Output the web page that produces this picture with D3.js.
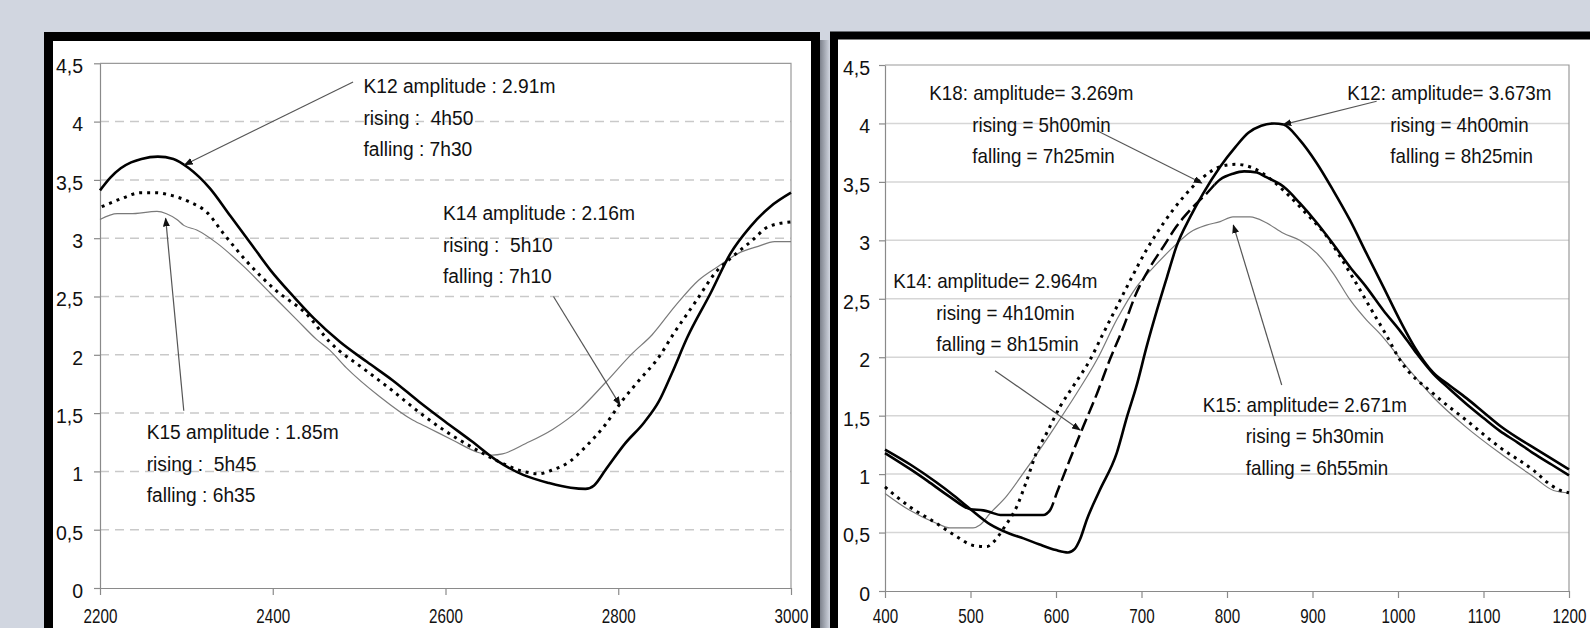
<!DOCTYPE html>
<html>
<head>
<meta charset="utf-8">
<script src="https://cdn.jsdelivr.net/npm/d3@7"></script>
<style>
body { margin: 0; background: #d1d6e0; overflow: hidden; }
svg { display: block; }
text { font-family: "Liberation Sans", Arial, sans-serif; fill: #111; }
</style>
</head>
<body>
<svg id="chart" width="1590" height="628"></svg>
<script>
// Water level (m) against time step, two records side by side.
const yTicks = [0, 0.5, 1, 1.5, 2, 2.5, 3, 3.5, 4, 4.5];
const yTickLabels = ["0", "0,5", "1", "1,5", "2", "2,5", "3", "3,5", "4", "4,5"];
const leftXTicks = [2200, 2400, 2600, 2800, 3000];
const rightXTicks = [400, 500, 600, 700, 800, 900, 1000, 1100, 1200];

// left record
const leftK12 = [[2200,3.41],[2212,3.52],[2224,3.60],[2236,3.65],[2248,3.68],[2267,3.70],[2285,3.68],[2303,3.60],[2327,3.43],[2351,3.19],[2375,2.95],[2398,2.72],[2424,2.50],[2448,2.31],[2478,2.11],[2509,1.94],[2539,1.78],[2569,1.60],[2599,1.43],[2630,1.26],[2660,1.09],[2690,0.97],[2720,0.90],[2745,0.86],[2762,0.85],[2772,0.88],[2785,1.01],[2808,1.24],[2830,1.42],[2847,1.60],[2862,1.84],[2880,2.15],[2907,2.53],[2930,2.87],[2953,3.10],[2976,3.27],[3000,3.39]];
const leftK14 = [[2202,3.27],[2225,3.34],[2247,3.39],[2265,3.39],[2281,3.37],[2304,3.31],[2324,3.22],[2343,3.04],[2370,2.80],[2404,2.55],[2439,2.35],[2466,2.11],[2509,1.86],[2539,1.69],[2569,1.51],[2599,1.35],[2630,1.21],[2660,1.09],[2690,1.00],[2708,0.98],[2723,1.01],[2743,1.08],[2762,1.21],[2785,1.40],[2805,1.61],[2824,1.78],[2847,1.98],[2864,2.18],[2890,2.46],[2912,2.70],[2932,2.84],[2955,2.98],[2974,3.10],[3000,3.14]];
const leftK15 = [[2200,3.16],[2220,3.21],[2235,3.21],[2266,3.23],[2277,3.21],[2289,3.16],[2297,3.11],[2312,3.07],[2335,2.96],[2366,2.76],[2397,2.53],[2428,2.30],[2451,2.13],[2466,2.04],[2485,1.89],[2524,1.64],[2562,1.44],[2581,1.37],[2608,1.27],[2639,1.16],[2654,1.14],[2666,1.15],[2693,1.24],[2724,1.36],[2755,1.53],[2785,1.76],[2816,2.01],[2839,2.17],[2866,2.42],[2893,2.64],[2916,2.76],[2939,2.87],[2962,2.93],[2981,2.97],[3000,2.97]];

// right record
const rightK12 = [[400,1.21],[430,1.08],[460,0.93],[480,0.82],[500,0.70],[523,0.57],[546,0.49],[562,0.45],[580,0.40],[600,0.35],[614,0.33],[622,0.36],[628,0.44],[636,0.61],[651,0.86],[671,1.18],[683,1.49],[694,1.75],[706,2.09],[718,2.40],[730,2.69],[741,2.95],[757,3.20],[772,3.40],[792,3.63],[810,3.80],[825,3.92],[840,3.98],[855,4.00],[866,3.99],[885,3.86],[905,3.66],[924,3.43],[944,3.17],[963,2.89],[983,2.60],[1002,2.32],[1020,2.08],[1041,1.87],[1060,1.76],[1080,1.65],[1100,1.53],[1120,1.41],[1140,1.31],[1160,1.22],[1180,1.13],[1200,1.04]];
const rightK14 = [[400,1.18],[430,1.04],[450,0.94],[475,0.81],[500,0.70],[515,0.69],[525,0.67],[535,0.65],[585,0.65],[593,0.69],[601,0.84],[616,1.12],[632,1.41],[648,1.69],[663,1.98],[679,2.26],[694,2.55],[710,2.77],[726,2.95],[741,3.12],[757,3.26],[776,3.40],[792,3.52],[807,3.57],[820,3.59],[835,3.58],[846,3.54],[866,3.46],[885,3.32],[905,3.15],[924,2.97],[944,2.77],[963,2.60],[983,2.40],[1002,2.23],[1020,2.05],[1041,1.86],[1060,1.73],[1080,1.60],[1100,1.48],[1119,1.37],[1140,1.27],[1158,1.18],[1180,1.08],[1200,0.99]];
const rightK18 = [[400,0.89],[429,0.72],[460,0.58],[484,0.465],[503,0.39],[519,0.38],[527,0.42],[540,0.55],[554,0.72],[566,0.95],[577,1.18],[589,1.35],[605,1.58],[620,1.75],[640,1.98],[655,2.20],[671,2.43],[687,2.66],[706,2.92],[726,3.15],[749,3.37],[772,3.54],[792,3.63],[810,3.65],[830,3.62],[850,3.53],[870,3.40],[890,3.25],[916,3.04],[944,2.72],[971,2.38],[987,2.18],[1002,1.98],[1041,1.69],[1080,1.46],[1119,1.23],[1158,1.035],[1180,0.90],[1190,0.86],[1200,0.84]];
const rightK15 = [[400,0.835],[429,0.69],[460,0.58],[476,0.54],[503,0.54],[511,0.565],[523,0.665],[542,0.81],[562,1.01],[581,1.21],[601,1.43],[624,1.69],[648,1.98],[671,2.32],[694,2.60],[718,2.80],[741,2.97],[757,3.07],[776,3.13],[792,3.16],[807,3.20],[827,3.20],[846,3.15],[866,3.06],[885,3.00],[905,2.89],[924,2.72],[944,2.49],[963,2.32],[979,2.20],[1010,1.92],[1041,1.66],[1080,1.40],[1119,1.18],[1158,0.98],[1182,0.86],[1200,0.84]];

// annotation texts
const leftNotes = [
    ["K12 amplitude : 2.91m", "rising :  4h50", "falling : 7h30"],
    ["K14 amplitude : 2.16m", "rising :  5h10", "falling : 7h10"],
    ["K15 amplitude : 1.85m", "rising :  5h45", "falling : 6h35"]
];
const rightNotes = [
    ["K18: amplitude= 3.269m", "rising = 5h00min", "falling = 7h25min"],
    ["K12: amplitude= 3.673m", "rising = 4h00min", "falling = 8h25min"],
    ["K14: amplitude= 2.964m", "rising = 4h10min", "falling = 8h15min"],
    ["K15: amplitude= 2.671m", "rising = 5h30min", "falling = 6h55min"]
];

let svg = d3.select("#chart");
let defs = svg.append("defs");

defs.append("marker")
    .attr("id", "head")
    .attr("markerUnits", "userSpaceOnUse")
    .attr("markerWidth", 9).attr("markerHeight", 7)
    .attr("refX", 8).attr("refY", 3.5)
    .attr("orient", "auto")
    .append("path").attr("d", "M0,0 L9,3.5 L0,7 Z").attr("fill", "#111");

let shadow = defs.append("linearGradient").attr("id", "shadow");
shadow.append("stop").attr("offset", "0%").attr("stop-color", "#7d828c");
shadow.append("stop").attr("offset", "100%").attr("stop-color", "#d1d6e0");

// black picture frames
svg.append("rect").attr("x", 820).attr("y", 40).attr("width", 10).attr("height", 600).attr("fill", "url(#shadow)");
svg.append("rect").attr("x", 48.5).attr("y", 36.5).attr("width", 767).attr("height", 700)
    .attr("fill", "#fff").attr("stroke", "#000").attr("stroke-width", 9);
svg.append("rect").attr("x", 834).attr("y", 35.5).attr("width", 800).attr("height", 700)
    .attr("fill", "#fff").attr("stroke", "#000").attr("stroke-width", 8);

const styles = {
    thick:  { stroke: "#000", width: 2.6, dash: null },
    dotted: { stroke: "#000", width: 3, dash: "3,5" },
    thin:   { stroke: "#7a7a7a", width: 1.2, dash: null },
    dashed: { stroke: "#000", width: 2.5, dash: "13,5" }
};

function drawPanel(p) {
    let x = d3.scaleLinear().domain(p.xDomain).range([p.x0, p.x1]);
    let y = d3.scaleLinear().domain([0, 4.5]).range([p.y1, p.y0]);
    let g = svg.append("g");

    // grid lines
    g.append("g").selectAll("line").data(yTicks.filter(d => d > 0 && d < 4.5)).enter().append("line")
        .attr("x1", p.x0).attr("x2", p.x1)
        .attr("y1", d => y(d)).attr("y2", d => y(d))
        .attr("stroke", p.gridColor).attr("stroke-width", 1.5)
        .attr("stroke-dasharray", p.gridDash);

    // plot area border (top and right)
    g.append("path")
        .attr("d", `M${p.x0},${y(4.5)} H${p.x1} V${p.y1}`)
        .attr("fill", "none").attr("stroke", "#9a9a9a").attr("stroke-width", 1.2);

    let yAxis = g.append("g").attr("transform", `translate(${p.x0},0)`)
        .call(d3.axisLeft(y).tickValues(yTicks).tickFormat((d, i) => yTickLabels[i]).tickSize(6).tickSizeOuter(0).tickPadding(p.yPad));
    yAxis.selectAll("text").attr("dy", "0.48em").style("font-size", "19.5px")
        .style("font-family", "'Liberation Sans', Arial, sans-serif").attr("fill", "#111");

    let xAxis = g.append("g").attr("transform", `translate(0,${p.y1})`)
        .call(d3.axisBottom(x).tickValues(p.xTicks).tickFormat(d3.format("d")).tickSize(7).tickSizeOuter(0));
    xAxis.selectAll("text").attr("y", 623.5 - p.y1).attr("dy", null)
        .attr("transform", "scale(0.76,1)").style("font-size", "20px")
        .style("font-family", "'Liberation Sans', Arial, sans-serif").attr("fill", "#111");
    g.selectAll(".domain, .tick line").attr("stroke", "#8a8a8a").attr("stroke-width", 1.2);

    let line = d3.line().x(d => x(d[0])).y(d => y(d[1])).curve(d3.curveMonotoneX);
    let lines = g.append("g");

    p.series.forEach((s, i) => {
        let st = styles[s.style];
        if (s.dashSpan) {
            // solid where the curve is flat, dashed over the steep rise
            let xa = x(s.dashSpan[0]), xb = x(s.dashSpan[1]);
            let solidClip = defs.append("clipPath").attr("id", p.id + "solid" + i);
            solidClip.append("rect").attr("x", p.x0 - 5).attr("y", 0).attr("width", xa - p.x0 + 5).attr("height", 628);
            solidClip.append("rect").attr("x", xb).attr("y", 0).attr("width", p.x1 - xb + 5).attr("height", 628);
            defs.append("clipPath").attr("id", p.id + "dash" + i)
                .append("rect").attr("x", xa).attr("y", 0).attr("width", xb - xa).attr("height", 628);
            lines.append("path").datum(s.data).attr("d", line)
                .attr("fill", "none").attr("stroke", "#000").attr("stroke-width", styles.thick.width)
                .attr("clip-path", `url(#${p.id}solid${i})`);
            lines.append("path").datum(s.data).attr("d", line)
                .attr("fill", "none").attr("stroke", st.stroke).attr("stroke-width", st.width)
                .attr("stroke-dasharray", st.dash)
                .attr("clip-path", `url(#${p.id}dash${i})`);
        } else {
            lines.append("path").datum(s.data).attr("d", line)
                .attr("fill", "none").attr("stroke", st.stroke).attr("stroke-width", st.width)
                .attr("stroke-dasharray", st.dash);
        }
    });

    // annotations with arrows
    p.notes.forEach((n, i) => {
        let lay = p.noteLayout[i];
        g.append("line")
            .attr("x1", x(lay.from[0])).attr("y1", y(lay.from[1]))
            .attr("x2", x(lay.to[0])).attr("y2", y(lay.to[1]))
            .attr("stroke", "#555").attr("stroke-width", 1.2)
            .attr("marker-end", "url(#head)");
        n.forEach((t, j) => {
            g.append("text")
                .attr("transform", `translate(${x(lay.at[0]) + lay.indent[j]},${y(lay.at[1]) + j * 31.5}) scale(${p.noteScale},1)`)
                .style("font-size", "20px").style("white-space", "pre")
                .text(t);
        });
    });
}

drawPanel({
    id: "left", x0: 100, x1: 791, y0: 63.3, y1: 588,
    xDomain: [2200, 3000], xTicks: leftXTicks, yPad: 11, noteScale: 0.96,
    gridColor: "#c9c9c9", gridDash: "9,6",
    series: [
        { data: leftK15, style: "thin" },
        { data: leftK14, style: "dotted" },
        { data: leftK12, style: "thick" }
    ],
    notes: leftNotes,
    noteLayout: [
        { at: [2505, 4.243], indent: [0, 0, 0], from: [2493, 4.34], to: [2298, 3.63] },
        { at: [2597, 3.156], indent: [0, 0, 0], from: [2725, 2.50], to: [2802, 1.57] },
        { at: [2254, 1.275], indent: [0, 0, 0], from: [2297, 1.52], to: [2276, 3.17] }
    ]
});

drawPanel({
    id: "right", x0: 885, x1: 1569, y0: 65, y1: 591,
    xDomain: [400, 1200], xTicks: rightXTicks, yPad: 9, noteScale: 0.94,
    gridColor: "#d6d6d6", gridDash: null,
    series: [
        { data: rightK15, style: "thin" },
        { data: rightK18, style: "dotted" },
        { data: rightK14, style: "dashed", dashSpan: [593, 785] },
        { data: rightK12, style: "thick" }
    ],
    notes: rightNotes,
    noteLayout: [
        { at: [451.8, 4.20], indent: [0, 43, 43], from: [647.6, 3.94], to: [770.4, 3.49] },
        { at: [940.7, 4.20], indent: [0, 43, 43], from: [975, 4.19], to: [865.8, 3.99] },
        { at: [409.7, 2.59], indent: [0, 43, 43], from: [528.7, 1.885], to: [628, 1.377] },
        { at: [771.6, 1.534], indent: [0, 43, 43], from: [864, 1.762], to: [807.4, 3.13] }
    ]
});
</script>
</body>
</html>
